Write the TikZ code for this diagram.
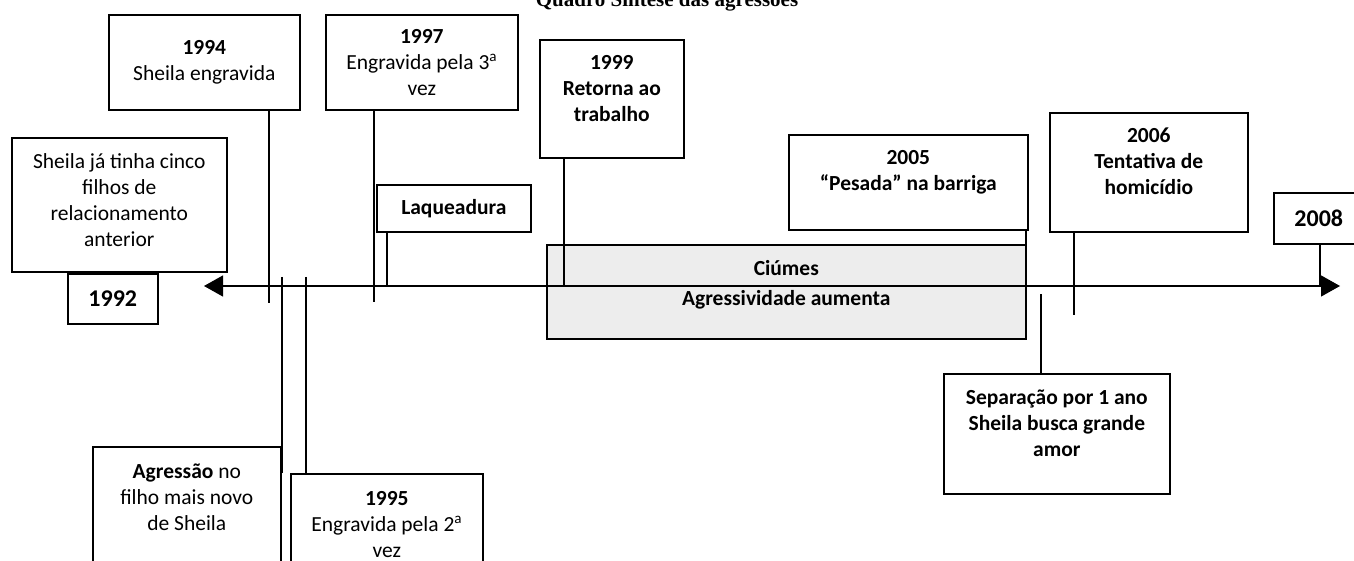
\documentclass[tikz,border=0pt]{standalone}
\usepackage{fontspec}
\setmainfont{Carlito}
\newfontfamily\titlefont{Liberation Serif}
\usetikzlibrary{arrows.meta}
\tikzset{
  evbox/.style= {
    draw,
    line width = 1.6pt,
    anchor = north west,
    align = center,
    inner sep = 0pt,
    font = \fontsize{21.5}{26}\selectfont
  },
  boldbox/.style= {
    evbox,
    font = \fontsize{21.5}{26}\selectfont\bfseries
  },
  yearbox/.style= {
    evbox,
    font = \fontsize{24}{28}\selectfont\bfseries
  },
  spanbox/.style= {
    evbox,
    fill = black!7,
    font = \fontsize{21.5}{30}\selectfont\bfseries
  },
  lift/.style= {text depth = #1},
  tick/.style= {line width = 1.5pt},
  timeline/.style= {
    line width = 1.2pt,
    {Triangle[length=19pt,width=21pt]}-{Triangle[length=19pt,width=21pt]}
  }
}

\begin{document}
\begin{tikzpicture}[x=1pt,y=-1pt]
  \useasboundingbox (0,0) rectangle (1354,561);

  % title
  \node[anchor=base,inner sep=0pt,font=\titlefont\fontsize{21}{24}\selectfont\bfseries] (title) at (667,7) {Quadro Síntese das agressões};

  % period box
  \node[spanbox,minimum width=479pt,minimum height=94pt,lift=17pt] (ciumes) at (546,244) {Ciúmes\\Agressividade aumenta};

  % time axis
  \coordinate (axL) at (204,286);
  \coordinate (axR) at (1340,286);
  \draw[timeline] (axL) -- (axR);

  % events above the axis
  \node[evbox,minimum width=215pt,minimum height=134pt,lift=9pt] (start) at (11,137) {Sheila já tinha cinco\\filhos de\\relacionamento\\anterior};
  \node[yearbox,minimum width=90pt,minimum height=50pt] (y1992) at (67,273) {1992};
  \node[evbox,minimum width=191pt,minimum height=95pt] (y1994) at (108,14) {\textbf{1994}\\Sheila engravida};
  \node[evbox,minimum width=192pt,minimum height=95pt] (y1997) at (325,14) {\textbf{1997}\\Engravida pela 3\textsuperscript{a}\\vez};
  \node[boldbox,minimum width=154pt,minimum height=47pt] (laq) at (376,184) {Laqueadura};
  \node[boldbox,minimum width=144pt,minimum height=118pt,lift=21pt] (y1999) at (539,39) {1999\\Retorna ao\\trabalho};
  \node[boldbox,minimum width=239pt,minimum height=95pt,lift=23pt] (y2005) at (788,134) {2005\\“Pesada” na barriga};
  \node[boldbox,minimum width=198pt,minimum height=119pt,lift=22pt] (y2006) at (1049,112) {2006\\Tentativa de\\homicídio};
  \node[yearbox,minimum width=90pt,minimum height=51pt] (y2008) at (1273,192) {2008};

  % events below the axis
  \node[evbox,minimum width=188pt,minimum height=150pt,lift=49pt] (agr) at (92,446) {\textbf{Agressão} no\\filho mais novo\\de Sheila};
  \node[evbox,minimum width=192pt,minimum height=125pt,lift=24pt] (y1995) at (290,473) {\textbf{1995}\\Engravida pela 2\textsuperscript{a}\\vez};
  \node[boldbox,minimum width=226pt,minimum height=120pt,lift=22pt] (sep) at (943,373) {Separação por 1 ano\\Sheila busca grande\\amor};

  % ticks
  \coordinate (t1994) at (269,303);
  \coordinate (t1997) at (374,302);
  \coordinate (tlaq) at (387,287);
  \coordinate (t1999) at (564,286);
  \coordinate (t2005) at (1026,315);
  \coordinate (t2006) at (1074,315);
  \coordinate (t2008) at (1320,286);
  \coordinate (tagr) at (282,277);
  \coordinate (t1995) at (306,277);
  \coordinate (tsep) at (1041,294);

  \draw[tick] (y1994.south -| t1994) -- (t1994);
  \draw[tick] (y1997.south -| t1997) -- (t1997);
  \draw[tick] (laq.south -| tlaq) -- (tlaq);
  \draw[tick] (y1999.south -| t1999) -- (t1999);
  \draw[tick,line width=2.2pt] (y2005.south -| t2005) -- (t2005);
  \draw[tick] (y2006.south -| t2006) -- (t2006);
  \draw[tick] (y2008.south -| t2008) -- (t2008);
  \draw[tick] (tagr) -- (tagr |- y1995.north);
  \draw[tick] (t1995) -- (y1995.north -| t1995);
  \draw[tick] (sep.north -| tsep) -- (tsep);

\end{tikzpicture}
\end{document}
